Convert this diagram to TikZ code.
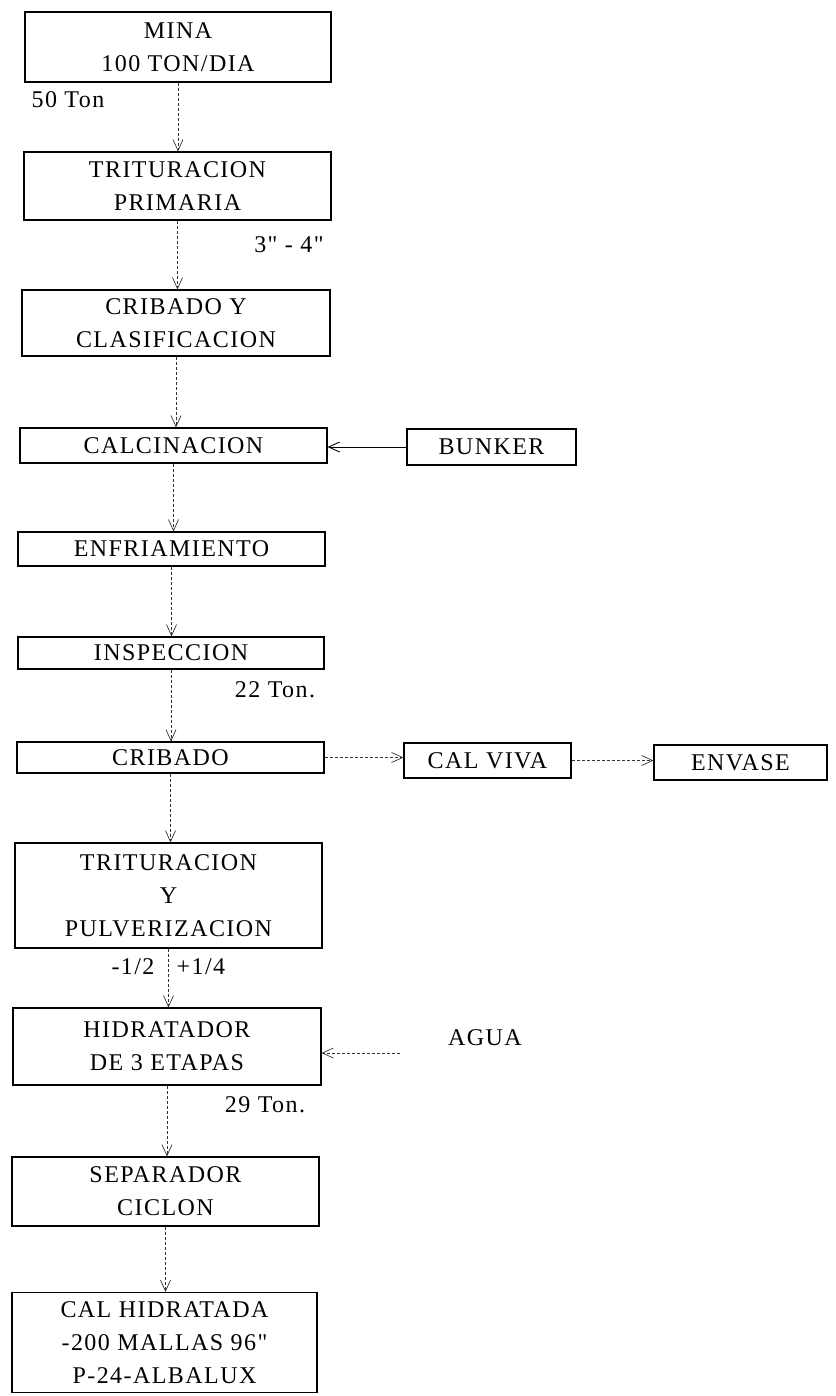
\documentclass[tikz,border=0pt]{standalone}
\usepackage{fontspec}
\setmainfont{Liberation Serif}[Ligatures=TeXOff, LetterSpace=6]
\usetikzlibrary{arrows.meta}
\begin{document}
\begin{tikzpicture}[x=1pt,y=-1pt,
  box/.style={draw=black, line width=1.1pt, rectangle, inner sep=0pt, align=center,
    font=\fontsize{24}{33}\selectfont},
  lbl/.style={font=\fontsize{24}{26}\selectfont, inner sep=0pt},
  flow/.style={densely dashed, line width=0.7pt, draw=black!80,
    -{Straight Barb[length=11pt,width=10pt]}},
  solidflow/.style={line width=0.9pt, draw=black,
    -{Straight Barb[length=11pt,width=10pt]}}]
\useasboundingbox (0,0) rectangle (835,1396);
\node[box, minimum width=306pt, minimum height=70pt] (mina) at (178,47) {MINA\\100 TON/DIA};
\node[box, minimum width=307pt, minimum height=68pt] (trit1) at (177.5,186) {TRITURACION\\PRIMARIA};
\node[box, minimum width=308pt, minimum height=66pt] (crib1) at (176,323) {CRIBADO Y\\CLASIFICACION};
\node[box, minimum width=307pt, minimum height=35pt] (calc) at (173.5,445.5) {CALCINACION};
\node[box, minimum width=169pt, minimum height=36pt] (bunker) at (491.5,447) {BUNKER};
\node[box, minimum width=307pt, minimum height=34pt] (enfr) at (171.5,549) {ENFRIAMIENTO};
\node[box, minimum width=306pt, minimum height=32pt] (insp) at (171,653) {INSPECCION};
\node[box, minimum width=307pt, minimum height=31pt] (crib2) at (170.5,757.5) {CRIBADO};
\node[box, minimum width=167pt, minimum height=35pt] (calviva) at (487.5,760.5) {CAL VIVA};
\node[box, minimum width=173pt, minimum height=35pt] (envase) at (740.5,762.5) {ENVASE};
\node[box, minimum width=307pt, minimum height=105pt] (trit2) at (168.5,895.5) {TRITURACION\\Y\\PULVERIZACION};
\node[box, minimum width=308pt, minimum height=77pt] (hidr) at (167,1046.5) {HIDRATADOR\\DE 3 ETAPAS};
\node[box, minimum width=307pt, minimum height=69pt] (sep) at (165.5,1191.5) {SEPARADOR\\CICLON};
\node[box, minimum width=305pt, minimum height=100pt] (calh) at (164.5,1342.5) {CAL HIDRATADA\\-200 MALLAS 96"\\P-24-ALBALUX};

\node[lbl] (l50) at (68,100) {50 Ton};
\node[lbl] (l34) at (289,245) {3" - 4"};
\node[lbl] (l22) at (275,690) {22 Ton.};
\node[lbl] (l12) at (133,967) {-1/2};
\node[lbl] (l14) at (201,967) {+1/4};
\node[lbl] (l29) at (265,1105) {29 Ton.};
\node[lbl] (agua) at (485,1038) {AGUA};
\coordinate (aguaend) at (400,1053);

\draw[flow] (mina.south) -- (mina.south |- trit1.north);
\draw[flow] (trit1.south) -- (trit1.south |- crib1.north);
\draw[flow] (crib1.south) -- (crib1.south |- calc.north);
\draw[flow] (calc.south) -- (calc.south |- enfr.north);
\draw[flow] (enfr.south) -- (enfr.south |- insp.north);
\draw[flow] (insp.south) -- (insp.south |- crib2.north);
\draw[flow] (crib2.south) -- (crib2.south |- trit2.north);
\draw[flow] (trit2.south) -- (trit2.south |- hidr.north);
\draw[flow] (hidr.south) -- (hidr.south |- sep.north);
\draw[flow] (sep.south) -- (sep.south |- calh.north);
\draw[solidflow] (bunker.west) -- (bunker.west -| calc.east);
\draw[flow] (crib2.east) -- (crib2.east -| calviva.west);
\draw[flow] (calviva.east) -- (calviva.east -| envase.west);
\draw[flow] (aguaend) -- (aguaend -| hidr.east);
\end{tikzpicture}
\end{document}
